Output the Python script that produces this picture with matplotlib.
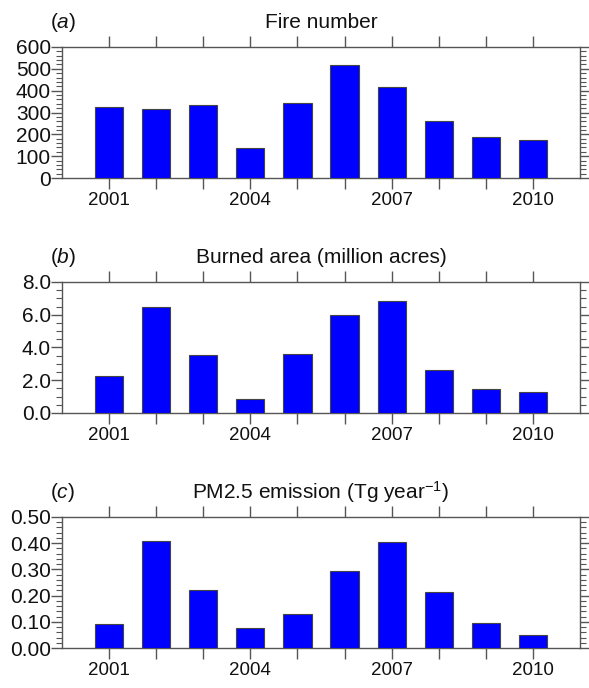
import matplotlib
matplotlib.use("Agg")
import matplotlib.pyplot as plt
from matplotlib.ticker import MultipleLocator, FixedLocator, FixedFormatter

plt.rcParams['font.family'] = ['Liberation Sans', 'DejaVu Sans']
plt.rcParams['mathtext.fontset'] = 'custom'
plt.rcParams['mathtext.rm'] = 'Liberation Sans'
plt.rcParams['mathtext.it'] = 'Liberation Sans:italic'

years = [2001, 2002, 2003, 2004, 2005, 2006, 2007, 2008, 2009, 2010]
fire_number = [326, 314, 334, 137, 343, 519, 417, 262, 186, 173]
burned_area = [2.26, 6.47, 3.54, 0.88, 3.60, 6.00, 6.82, 2.63, 1.45, 1.26]
pm25 = [0.090, 0.408, 0.222, 0.078, 0.130, 0.295, 0.405, 0.213, 0.096, 0.050]
xtick_labels = ['2001', '', '', '2004', '', '', '2007', '', '', '2010']

panels = [
    ('a', 'Fire number', fire_number, 600, 100, 20, '%d'),
    ('b', 'Burned area (million acres)', burned_area, 8.0, 2.0, 0.5, '%.1f'),
    ('c', 'PM2.5 emission (Tg year$^{\\mathregular{-1}}$)', pm25, 0.5, 0.1, 0.02, '%.2f'),
]

W, H = 589, 688
fig = plt.figure(figsize=(W / 100, H / 100), dpi=100)
left, right = 62, 580
tops = [47, 282, 517]
height = 131
spine_col = '#555555'

for (letter, title, vals, ymax, major, minor, fmt), top in zip(panels, tops):
    ax = fig.add_axes([left / W, 1 - (top + height) / H, (right - left) / W, height / H])
    ax.bar(years, vals, width=0.6, color='#0000FF', edgecolor='#444444', linewidth=0.8, zorder=3)
    ax.set_xlim(2000, 2011)
    ax.set_ylim(0, ymax)
    ax.xaxis.set_major_locator(FixedLocator(years))
    ax.xaxis.set_major_formatter(FixedFormatter(xtick_labels))
    ax.yaxis.set_major_locator(MultipleLocator(major))
    ax.yaxis.set_minor_locator(MultipleLocator(minor))
    ax.yaxis.set_major_formatter(matplotlib.ticker.FormatStrFormatter(fmt))
    ax.tick_params(axis='x', which='major', direction='out', length=8, width=1.0,
                   color=spine_col, top=True, bottom=True, labelsize=13.5, pad=2,
                   labelcolor='#111111')
    ax.tick_params(axis='y', which='major', direction='out', length=8, width=1.0,
                   color=spine_col, left=True, right=True, labelsize=15, pad=0,
                   labelcolor='#111111')
    ax.tick_params(axis='y', which='minor', direction='out', length=4, width=0.8,
                   color=spine_col, left=True, right=True)
    for s in ax.spines.values():
        s.set_color(spine_col)
        s.set_linewidth(1.0)
    ax.text(0.5, 1.19, title, transform=ax.transAxes, ha='center', va='center',
            fontsize=15, color='#111111')
    ax.text(-0.023, 1.19, '(' + '$\\it{' + letter + '}$' + ')', transform=ax.transAxes,
            ha='left', va='center', fontsize=15, color='#111111')

fig.savefig('out.png', dpi=100)
